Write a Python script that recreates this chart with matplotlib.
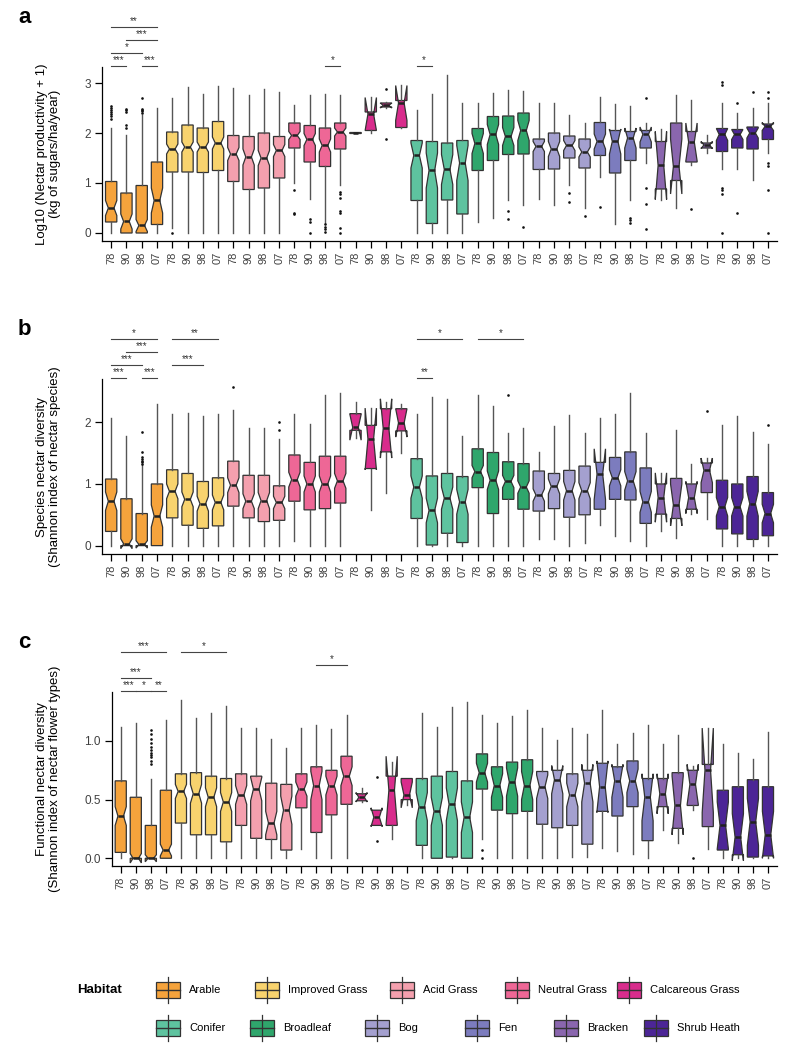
import numpy as np
import matplotlib
matplotlib.use("Agg")
import matplotlib.pyplot as plt
from matplotlib.patches import Rectangle

plt.rcParams['font.family'] = ['Liberation Sans', 'DejaVu Sans']

# habitats, colours and survey years
habitats = ["Arable", "Improved Grass", "Acid Grass", "Neutral Grass", "Calcareous Grass",
            "Conifer", "Broadleaf", "Bog", "Fen", "Bracken", "Shrub Heath"]
colors = ["#F5A33C", "#F8D36E", "#F4A0AE", "#EE6796", "#D82C8C",
          "#5EC39F", "#2FA66C", "#A4A0CF", "#7C7CBE", "#8A66AE", "#4C2596"]
years = ["78", "90", "98", "07"]

# panel a : log10 nectar productivity
a_lo = [0, 0, 0, 0, 0.1, 0, 0, 0, 0, 0, 0, 0, 1.0, 0.67, 0.2, 0.95, 1.99, 2.0, 2.5, 2.1, 0, 0, 0, 0,
        0.22, 0.3, 0.65, 0.55, 0.67, 0.55, 0.95, 0.5, 1.12, 0.18, 0.65, 1.4, 0.66, 0.5, 1.35, 1.6, 1.28, 1.27, 1.05, 1.6]
a_q1 = [0.22, 0, 0, 0.17, 1.22, 1.22, 1.21, 1.25, 1.03, 0.87, 0.9, 1.1, 1.7, 1.42, 1.33, 1.68, 1.99, 2.05, 2.52, 2.11,
        0.65, 0.19, 0.66, 0.38, 1.25, 1.45, 1.57, 1.58, 1.27, 1.28, 1.5, 1.3, 1.55, 1.2, 1.45, 1.7, 0.88, 1.05, 1.42, 1.7,
        1.63, 1.7, 1.68, 1.87]
a_med = [0.5, 0.23, 0.15, 0.65, 1.68, 1.72, 1.72, 1.8, 1.58, 1.52, 1.5, 1.65, 1.95, 1.87, 1.75, 2.02, 2.0, 2.38, 2.55, 2.6,
         1.55, 1.25, 1.27, 1.4, 1.79, 1.97, 1.93, 2.05, 1.73, 1.68, 1.75, 1.62, 1.83, 1.83, 1.9, 1.97, 1.35, 1.33, 1.82, 1.76,
         1.97, 1.97, 2.0, 2.13]
a_q3 = [1.03, 0.8, 0.95, 1.42, 2.02, 2.16, 2.1, 2.23, 1.95, 1.93, 2.0, 1.93, 2.2, 2.15, 2.1, 2.2, 2.01, 2.42, 2.6, 2.65,
        1.85, 1.83, 1.8, 1.85, 2.09, 2.33, 2.34, 2.4, 1.88, 2.0, 1.94, 1.88, 2.21, 2.05, 2.03, 2.05, 1.83, 2.2, 2.03, 1.8,
        2.09, 2.07, 2.12, 2.18]
a_hi = [2.1, 1.95, 2.35, 2.5, 2.7, 2.92, 2.78, 2.93, 2.9, 2.75, 2.87, 2.82, 2.55, 2.75, 2.77, 2.75, 2.01, 2.72, 2.62, 2.95,
        2.45, 2.78, 3.17, 2.6, 2.6, 2.8, 2.85, 2.83, 2.6, 2.6, 2.35, 2.2, 2.72, 2.57, 2.53, 2.2, 2.07, 2.75, 2.65, 1.95,
        2.6, 2.4, 2.5, 2.6]
a_ci = [0.15, 0.15, 0.12, 0.25, 0.1, 0.1, 0.1, 0.12, 0.13, 0.16, 0.15, 0.12, 0.08, 0.12, 0.13, 0.08, 0.005, 0.33, 0.05, 0.35,
        0.25, 0.35, 0.3, 0.35, 0.2, 0.2, 0.18, 0.2, 0.1, 0.15, 0.1, 0.1, 0.15, 0.25, 0.2, 0.15, 0.68, 0.55, 0.38, 0.07,
        0.12, 0.1, 0.1, 0.08]
a_out = {0: [2.28, 2.33, 2.38, 2.42, 2.46, 2.5, 2.53], 1: [2.1, 2.15, 2.42, 2.45, 2.48], 2: [2.4, 2.43, 2.46, 2.48, 2.7],
         4: [0.0], 12: [0.85, 0.4, 0.37], 13: [0.28, 0.22, 0.0], 14: [0.18, 0.12, 0.07, 0.02],
         15: [0.82, 0.77, 0.7, 0.43, 0.4, 0.1, 0.0], 18: [2.87, 1.87], 26: [0.43, 0.28], 27: [0.11],
         30: [0.8, 0.62], 31: [0.33], 32: [0.52], 34: [0.3, 0.25, 0.2], 35: [2.7, 0.9, 0.58, 0.08], 38: [0.47],
         40: [3.03, 2.95, 0.9, 0.85, 0.77, 0.0], 41: [2.6, 0.4], 42: [2.82], 43: [2.82, 2.7, 1.4, 1.33, 0.85, 0.0]}
a_sig = [(1, 2, "***", 0), (3, 4, "***", 0), (1, 3, "*", 1), (2, 4, "***", 2), (1, 4, "**", 3),
         (15, 16, "*", 0), (21, 22, "*", 0)]

# panel b : species nectar diversity
b_lo = [0, 0, 0, 0, 0, 0, 0, 0, 0, 0, 0, 0, 0.08, 0, 0, 0, 1.75, 0.58, 0.85, 1.5, 0, 0, 0, 0, 0, 0, 0, 0,
        0.1, 0.1, 0, 0.04, 0.33, 0.16, 0.08, 0, 0.24, 0.12, 0.52, 0.43, 0, 0, 0, 0]
b_q1 = [0.23, 0, 0, 0, 0.45, 0.33, 0.28, 0.32, 0.64, 0.45, 0.39, 0.41, 0.72, 0.58, 0.6, 0.69, 1.87, 1.25, 1.52, 1.86,
        0.44, 0.01, 0.2, 0.05, 0.94, 0.52, 0.75, 0.59, 0.56, 0.6, 0.46, 0.5, 0.59, 0.75, 0.74, 0.36, 0.51, 0.44, 0.59, 0.86,
        0.27, 0.19, 0.1, 0.16]
b_med = [0.72, 0.03, 0.02, 0.48, 0.88, 0.75, 0.68, 0.7, 0.98, 0.72, 0.73, 0.7, 1.07, 1.0, 1.0, 1.05, 1.92, 1.73, 1.9, 1.99,
         0.95, 0.57, 0.77, 0.71, 1.2, 1.06, 1.04, 0.95, 0.82, 0.96, 0.89, 0.89, 1.16, 1.1, 1.05, 0.71, 0.78, 0.66, 0.78, 1.22,
         0.63, 0.63, 0.68, 0.52]
b_q3 = [1.08, 0.76, 0.52, 1.0, 1.23, 1.17, 1.04, 1.1, 1.37, 1.14, 1.14, 0.97, 1.47, 1.35, 1.45, 1.45, 2.14, 1.95, 2.22, 2.22,
        1.41, 1.13, 1.17, 1.12, 1.57, 1.51, 1.36, 1.33, 1.21, 1.17, 1.22, 1.29, 1.35, 1.43, 1.52, 1.26, 1.0, 1.09, 1.0, 1.34,
        1.06, 1.0, 1.12, 0.86]
b_hi = [2.07, 1.78, 1.3, 2.3, 2.13, 2.15, 2.1, 2.13, 2.2, 1.9, 1.91, 1.73, 2.13, 1.98, 2.45, 2.48, 2.33, 2.23, 2.33, 2.29,
        2.13, 2.41, 2.38, 1.77, 2.44, 2.26, 1.83, 1.9, 1.52, 1.94, 2.11, 1.83, 2.07, 2.13, 2.48, 1.83, 1.18, 1.88, 1.33, 1.42,
        1.96, 2.1, 1.85, 1.64]
b_ci = [0.15, 0.08, 0.06, 0.18, 0.12, 0.12, 0.12, 0.12, 0.12, 0.12, 0.13, 0.1, 0.12, 0.13, 0.13, 0.12, 0.21, 0.5, 0.48, 0.23,
        0.18, 0.2, 0.18, 0.2, 0.1, 0.15, 0.1, 0.1, 0.1, 0.12, 0.15, 0.13, 0.41, 0.13, 0.15, 0.17, 0.4, 0.34, 0.26, 0.2,
        0.15, 0.15, 0.2, 0.15]
b_out = {2: [1.33, 1.36, 1.38, 1.4, 1.43, 1.52, 1.85], 8: [2.57], 11: [1.88, 2.0], 26: [2.44], 39: [2.19], 43: [1.96]}
b_sig = [(1, 2, "***", 0), (3, 4, "***", 0), (1, 3, "***", 1), (5, 7, "***", 1), (2, 4, "***", 2),
         (1, 4, "*", 3), (5, 8, "**", 3), (21, 22, "**", 0), (21, 24, "*", 3), (25, 28, "*", 3)]

# panel c : functional nectar diversity
c_lo = [0, 0, 0, 0, 0, 0, 0, 0, 0, 0, 0, 0, 0.08, 0, 0, 0, 0.48, 0.28, 0.16, 0.45, 0, 0, 0, 0, 0.16, 0, 0, 0,
        0, 0, 0.01, 0.01, 0.09, 0.06, 0.04, 0, 0.24, 0.13, 0.41, 0.08, 0, 0, 0, 0]
c_q1 = [0.05, 0, 0, 0, 0.3, 0.2, 0.2, 0.14, 0.28, 0.17, 0.16, 0.07, 0.43, 0.22, 0.37, 0.46, 0.49, 0.28, 0.28, 0.5,
        0.11, 0, 0.01, 0, 0.59, 0.41, 0.38, 0.4, 0.29, 0.26, 0.28, 0.12, 0.4, 0.36, 0.44, 0.15, 0.44, 0.255, 0.45, 0.27,
        0.07, 0.03, 0.01, 0.02]
c_med = [0.36, 0.0, 0.0, 0.07, 0.57, 0.55, 0.52, 0.48, 0.54, 0.59, 0.3, 0.41, 0.59, 0.62, 0.62, 0.7, 0.52, 0.35, 0.58, 0.54,
         0.44, 0.4, 0.46, 0.35, 0.73, 0.62, 0.65, 0.62, 0.61, 0.67, 0.54, 0.64, 0.61, 0.66, 0.66, 0.52, 0.55, 0.45, 0.63, 0.75,
         0.28, 0.18, 0.31, 0.2]
c_q3 = [0.66, 0.52, 0.28, 0.58, 0.72, 0.73, 0.7, 0.68, 0.72, 0.7, 0.64, 0.63, 0.72, 0.78, 0.75, 0.87, 0.55, 0.41, 0.7, 0.68,
        0.68, 0.7, 0.74, 0.66, 0.89, 0.78, 0.82, 0.84, 0.74, 0.75, 0.72, 0.75, 0.81, 0.78, 0.83, 0.68, 0.68, 0.73, 0.75, 0.8,
        0.58, 0.61, 0.67, 0.61]
c_hi = [1.12, 1.15, 0.68, 1.18, 1.35, 1.2, 1.24, 1.3, 1.11, 1.11, 1.02, 0.94, 1.11, 1.14, 1.1, 1.22, 0.6, 0.41, 0.82, 0.68,
        1.24, 1.12, 1.29, 1.33, 1.22, 1.15, 1.21, 1.26, 1.11, 1.01, 1.11, 1.06, 1.26, 0.97, 1.07, 1.14, 0.97, 1.05, 0.79, 1.11,
        0.97, 0.9, 0.85, 1.08]
c_ci = [0.08, 0.04, 0.03, 0.05, 0.06, 0.08, 0.08, 0.08, 0.08, 0.1, 0.1, 0.12, 0.06, 0.12, 0.08, 0.08, 0.04, 0.08, 0.29, 0.11,
        0.12, 0.12, 0.14, 0.13, 0.08, 0.1, 0.12, 0.12, 0.1, 0.12, 0.1, 0.16, 0.22, 0.14, 0.1, 0.2, 0.17, 0.25, 0.17, 0.36,
        0.2, 0.2, 0.2, 0.2]
c_out = {2: [0.8, 0.83, 0.86, 0.88, 0.9, 0.92, 0.95, 0.98, 1.02, 1.06, 1.09], 17: [0.69, 0.15], 24: [0.07, 0.0], 38: [0.0]}
c_sig = [(1, 2, "***", 0), (2, 3, "*", 0), (3, 4, "**", 0), (1, 3, "***", 1), (14, 16, "*", 2),
         (1, 4, "***", 3), (5, 8, "*", 3)]


def make_stats(lo, q1, med, q3, hi, ci, out):
    st = []
    for k in range(len(med)):
        st.append(dict(whislo=lo[k], q1=q1[k], med=med[k], q3=q3[k], whishi=hi[k],
                       cilo=med[k] - ci[k], cihi=med[k] + ci[k], fliers=out.get(k, [])))
    return st


W, H = 797, 1050
fig = plt.figure(figsize=(W / 100, H / 100), dpi=100)


def draw_panel(rect_px, stats, ylim, yticks, yticklabels, sig, letter, ylabel):
    x0, y0, x1, y1 = rect_px
    ax = fig.add_axes([x0 / W, 1 - y1 / H, (x1 - x0) / W, (y1 - y0) / H])
    pos = np.arange(1, len(stats) + 1)
    bp = ax.bxp(stats, positions=pos, widths=0.74, shownotches=True, showcaps=False,
                patch_artist=True, manage_ticks=False,
                boxprops=dict(edgecolor="#333333", linewidth=0.9),
                whiskerprops=dict(color="#555555", linewidth=1.0),
                medianprops=dict(color="#222222", linewidth=1.8),
                flierprops=dict(marker="o", markersize=1.9, markerfacecolor="#111111",
                                markeredgecolor="none"))
    for k, patch in enumerate(bp["boxes"]):
        patch.set_facecolor(colors[k // 4])

    ax.set_xlim(0.4, 44.6)
    ax.set_ylim(*ylim)
    ax.set_xticks(pos)
    ax.set_xticklabels(years * len(habitats), rotation=90, fontsize=8, color="#404040")
    ax.set_yticks(yticks)
    ax.set_yticklabels(yticklabels, fontsize=8.5, color="#404040")
    ax.tick_params(length=5, width=0.9, pad=3)
    for s in ["top", "right"]:
        ax.spines[s].set_visible(False)
    for s in ["left", "bottom"]:
        ax.spines[s].set_linewidth(0.9)

    # significance brackets above the plot, 13 px apart
    yr = ylim[1] - ylim[0]
    per_px = yr / (y1 - y0)
    for i, j, lab, tier in sig:
        yy = ylim[1] + (1 + 13 * tier) * per_px
        ax.plot([i, j], [yy, yy], color="#444444", lw=0.8, clip_on=False)
        ax.text((i + j) / 2, yy + 1 * per_px, lab, ha="center", va="bottom", fontsize=7,
                color="#333333", clip_on=False)

    fig.text(18 / W, 1 - (y0 - 44) / H, letter, fontsize=16, fontweight="bold",
             ha="left", va="baseline")
    fig.text(48.5 / W, 1 - ((y0 + y1) / 2) / H, ylabel, rotation=90, ha="center", va="center",
             fontsize=9.5, multialignment="center", linespacing=1.1)
    return ax


draw_panel((102, 67, 777, 241), make_stats(a_lo, a_q1, a_med, a_q3, a_hi, a_ci, a_out),
           (-0.16, 3.32), [0, 1, 2, 3], ["0", "1", "2", "3"], a_sig, "a",
           "Log10 (Nectar productivity + 1)\n(kg of sugars/ha/year)")
draw_panel((102, 379.3, 777, 554), make_stats(b_lo, b_q1, b_med, b_q3, b_hi, b_ci, b_out),
           (-0.136, 2.697), [0, 1, 2], ["0", "1", "2"], b_sig, "b",
           "Species nectar diversity\n(Shannon index of nectar species)")
draw_panel((111.7, 692.3, 777, 866), make_stats(c_lo, c_q1, c_med, c_q3, c_hi, c_ci, c_out),
           (-0.066, 1.415), [0, 0.5, 1.0], ["0.0", "0.5", "1.0"], c_sig, "c",
           "Functional nectar diversity\n(Shannon index of nectar flower types)")

# legend drawn in pixel coordinates
lg = fig.add_axes([0, 0, 1, 1])
lg.set_xlim(0, W)
lg.set_ylim(H, 0)
lg.axis("off")
lg.text(77, 990, "Habitat", fontsize=9.5, fontweight="bold", ha="left", va="center")
key_x = [168, 267, 402, 517, 629, 168, 262, 377, 477, 566, 656]
key_y = [990] * 5 + [1028] * 6
for k, name in enumerate(habitats):
    kx, ky = key_x[k], key_y[k]
    lg.plot([kx, kx], [ky - 13, ky + 13], color="#333333", lw=0.9)
    lg.add_patch(Rectangle((kx - 12, ky - 8), 24, 16, facecolor=colors[k], edgecolor="#333333", lw=0.9))
    lg.plot([kx - 12, kx + 12], [ky, ky], color="#333333", lw=1.0)
    lg.text(kx + 21, ky, name, fontsize=8, ha="left", va="center")

fig.savefig("out.png", dpi=100)
